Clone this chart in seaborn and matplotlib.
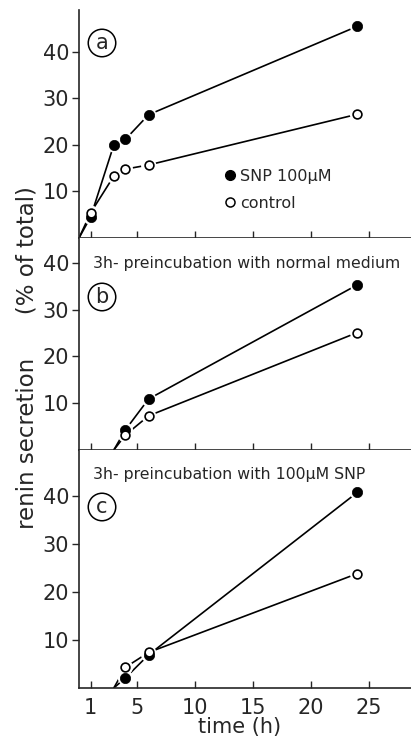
import numpy as np
import pandas as pd
import matplotlib
matplotlib.use("Agg")
import matplotlib.pyplot as plt
from matplotlib.lines import Line2D
import seaborn as sns

# ---- data ----
times_a = [1, 3, 4, 6, 24]
snp_a = [4.5, 20.0, 21.2, 26.5, 45.5]
ctrl_a = [5.4, 13.3, 14.8, 15.7, 26.6]

times_bc = [4, 6, 24]
snp_b = [4.3, 10.9, 35.3]
ctrl_b = [3.2, 7.3, 25.1]
snp_c = [2.1, 6.9, 40.7]
ctrl_c = [4.3, 7.4, 23.8]

start_a = 0      # lines start from origin in (a)
start_bc = 3     # lines start at 3 h (after preincubation) in (b), (c)

xticks = [1, 5, 10, 15, 20, 25]
yticks = [10, 20, 30, 40]
panel_letters = ["a", "b", "c"]
panel_notes = ["", "3h- preincubation with normal medium", "3h- preincubation with 100\u00b5M SNP"]
legend_labels = ["SNP 100\u00b5M", "control"]

sns.set_style("ticks")
plt.rcParams["font.family"] = ["DejaVu Sans"]

fig = plt.figure(figsize=(4.11, 7.43), dpi=100)

W, H = 411.0, 743.0
left = 79 / W
# panel pixel extents (top, bottom)
extents = [(10, 238), (238, 450), (450, 688)]
ylims = [49.0, 45.3, 49.5]
xmax = (W - 79) / 11.6

panels = [
    (times_a, snp_a, ctrl_a, start_a),
    (times_bc, snp_b, ctrl_b, start_bc),
    (times_bc, snp_c, ctrl_c, start_bc),
]

axes = []
for i, ((t, s, c, st), (top, bot), yl) in enumerate(zip(panels, extents, ylims)):
    ax = fig.add_axes([left, (H - bot) / H, 1 - left, (bot - top) / H])
    axes.append(ax)
    tl = [st] + list(t)
    df = pd.DataFrame({
        "time": tl * 2,
        "value": [0] + list(s) + [0] + list(c),
        "group": ["snp"] * len(tl) + ["ctrl"] * len(tl),
    })
    sns.lineplot(data=df, x="time", y="value", units="group", estimator=None,
                 color="black", lw=1.2, ax=ax, legend=False, sort=False)
    pts = pd.DataFrame({"time": list(t) * 2, "value": list(s) + list(c),
                        "group": ["snp"] * len(t) + ["ctrl"] * len(t)})
    # white halo
    sns.scatterplot(data=pts, x="time", y="value", s=120, color="white",
                    edgecolor="none", ax=ax, zorder=3, legend=False)
    ps = pts[pts.group == "snp"]
    pc = pts[pts.group == "ctrl"]
    sns.scatterplot(data=ps, x="time", y="value", s=55, color="black",
                    edgecolor="black", linewidth=0.5, ax=ax, zorder=4, legend=False)
    sns.scatterplot(data=pc, x="time", y="value", s=40, facecolor="white",
                    edgecolor="black", linewidth=1.2, ax=ax, zorder=5, legend=False)

    ax.set_xlim(0, xmax)
    ax.set_ylim(0, yl)
    ax.set_xticks(xticks)
    ax.set_yticks(yticks)
    ax.tick_params(axis="x", direction="in", length=5, width=1, labelsize=15, pad=7)
    ax.tick_params(axis="y", direction="out", length=5, width=1, labelsize=15, pad=2)
    for sp in ["top", "right"]:
        ax.spines[sp].set_visible(False)
    for sp in ["left", "bottom"]:
        ax.spines[sp].set_linewidth(1.2)
    ax.set_xlabel("")
    ax.set_ylabel("")
    if i < 2:
        ax.tick_params(axis="x", labelbottom=False)

    # circled panel letters
    cy = [43, 297, 507][i]
    fig.text(102 / W, (H - cy) / H, panel_letters[i], ha="center", va="center",
             fontsize=15,
             bbox=dict(boxstyle="circle,pad=0.18", fc="none", ec="black", lw=1.1))
    if panel_notes[i]:
        ny = [0, 263, 474][i]
        fig.text(93 / W, (H - ny) / H, panel_notes[i], ha="left", va="center",
                 fontsize=11.3)

# legend in panel (a)
handles = [
    Line2D([], [], marker="o", ls="none", color="black", markersize=7),
    Line2D([], [], marker="o", ls="none", mfc="white", mec="black", mew=1.1, markersize=6.5),
]
axes[0].legend(handles, legend_labels, frameon=False, loc="center left",
               bbox_to_anchor=((216 - 79) / (W - 79), (238 - 190) / 228.0),
               fontsize=11.5, handletextpad=0.1, handlelength=1.0,
               labelspacing=0.75, borderaxespad=0)

axes[2].set_xlabel("time (h)", fontsize=15, labelpad=0)
axes[2].xaxis.set_label_coords((240 - 79) / (W - 79), -0.12)

fig.text(27 / W, (H - 358) / H, "renin secretion      (% of total)", rotation=90,
         ha="center", va="center", fontsize=16.5)

fig.savefig("out.png", dpi=100)
